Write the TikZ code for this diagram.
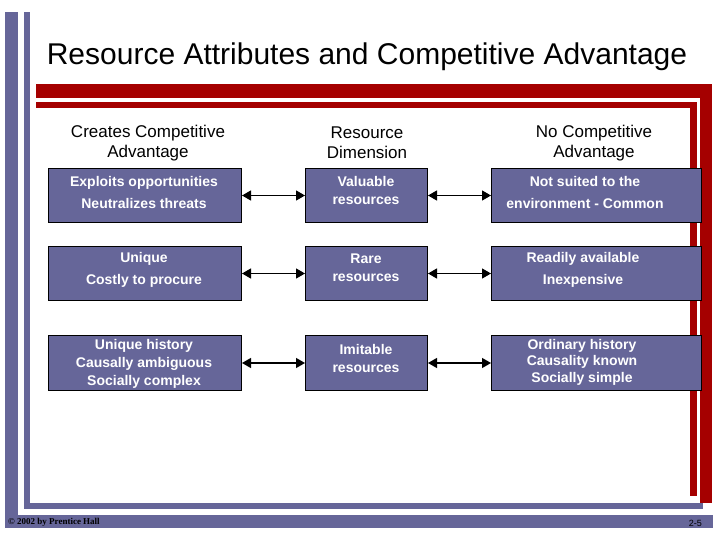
\documentclass[tikz,border=0pt]{standalone}
\usepackage{fontspec}
\setmainfont{Liberation Sans}
\newfontfamily\ser{Liberation Serif}
\usetikzlibrary{arrows.meta}
\definecolor{pur}{HTML}{666699}
\definecolor{rd}{HTML}{A50000}
\tikzset{
 box/.style={draw=black,line width=1pt,fill=pur,inner sep=0pt,anchor=north west},
 txt/.style={text=white,align=center,inner sep=0pt},
 hdr/.style={font=\fontsize{17}{20}\selectfont,align=center},
 con/.style={{Triangle[length=9pt,width=10pt]}-{Triangle[length=9pt,width=10pt]},line width=1.3pt}
}
\newcommand{\bt}[1]{\bfseries\fontsize{14}{#1}\selectfont}
\begin{document}
\begin{tikzpicture}[x=1pt,y=-1pt]
\useasboundingbox (0,0) rectangle (720,540);
\fill[pur] (5,12) rectangle (18,528);
\fill[pur] (24,12) rectangle (30,508);
\fill[pur] (24,503) rectangle (703,509);
\fill[pur] (5,515) rectangle (713,528);
\fill[rd] (36,84) rectangle (712,98);
\fill[rd] (700,84) rectangle (712,503);
\fill[rd] (36,102) rectangle (697,108);
\fill[rd] (690,102) rectangle (697,496);
\node[font=\fontsize{30}{32}\selectfont] (title) at (367,57) {Resource Attributes and Competitive Advantage};
\node[hdr] (h1) at (148,143) {Creates Competitive\\Advantage};
\node[hdr] (h2) at (367,143) {Resource\\Dimension};
\node[hdr] (h3) at (594,143) {No Competitive\\Advantage};
\node[box,minimum width=193pt,minimum height=54pt] (a1) at (48,168) {};
\node[box,minimum width=122pt,minimum height=54pt] (b1) at (305,168) {};
\node[box,minimum width=210pt,minimum height=54pt] (c1) at (491,168) {};
\node[box,minimum width=193pt,minimum height=54pt] (a2) at (48,246) {};
\node[box,minimum width=122pt,minimum height=54pt] (b2) at (305,246) {};
\node[box,minimum width=210pt,minimum height=54pt] (c2) at (491,246) {};
\node[box,minimum width=193pt,minimum height=55pt] (a3) at (48,335) {};
\node[box,minimum width=122pt,minimum height=55pt] (b3) at (305,335) {};
\node[box,minimum width=210pt,minimum height=55pt] (c3) at (491,335) {};
\node[txt,font=\bt{22}] (ta1) at (144,192) {Exploits opportunities\\Neutralizes threats};
\node[txt,font=\bt{18}] (tb1) at (366,190) {Valuable\\resources};
\node[txt,font=\bt{22}] (tc1) at (585,192) {Not suited to the\\environment - Common};
\node[txt,font=\bt{22}] (ta2) at (144,270) {Unique\\Costly to procure};
\node[txt,font=\bt{18}] (tb2) at (366,268) {Rare\\resources};
\node[txt,font=\bt{22}] (tc2) at (583,270) {Readily available\\Inexpensive};
\node[txt,font=\bt{18}] (ta3) at (144,364) {Unique history\\Causally ambiguous\\Socially complex};
\node[txt,font=\bt{18}] (tb3) at (366,358) {Imitable\\resources};
\node[txt,font=\bt{16.5}] (tc3) at (582,362) {Ordinary history\\Causality known\\Socially simple};
\foreach \i in {1,2,3}{
 \draw[con] (a\i.east) -- (b\i.west);
 \draw[con] (b\i.east) -- (c\i.west);
}
\node[font=\ser\bfseries\fontsize{9}{10}\selectfont,text=black,anchor=west,inner sep=0pt] (copy) at (8,522) {\textcopyright{} 2002 by Prentice Hall};
\node[font=\fontsize{9}{10}\selectfont,text=black,anchor=east,inner sep=0pt] (pg) at (702,523) {2-5};
\end{tikzpicture}
\end{document}
